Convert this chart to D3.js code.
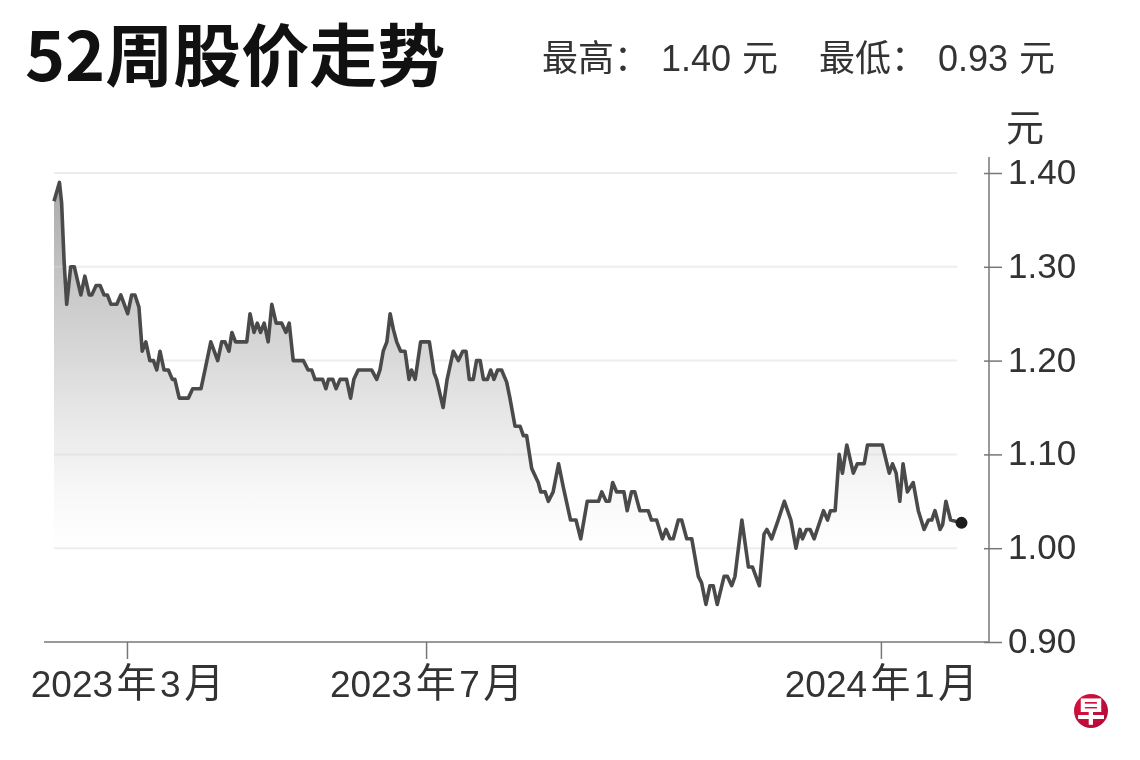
<!DOCTYPE html>
<html><head><meta charset="utf-8">
<script src="https://cdn.jsdelivr.net/npm/d3@7"></script>
<style>html,body{margin:0;background:#fff}svg{display:block;filter:blur(0.45px)}
text{font-family:"Liberation Sans","Noto Sans CJK SC",sans-serif;fill:#333}</style>
</head><body><svg id="c" width="1140" height="760"></svg>
<script>
const sessions=[0,1.5,2.1,2.8,3.5,4.6,5.6,7.4,8.5,9.7,10.4,11.6,12.7,13.8,14.7,15.7,17.3,18.4,20.3,21.4,22.3,23.4,24.3,25.3,26.4,27.4,28.3,29.2,30.3,31.5,32.6,33.3,34.5,37,38.2,40.5,41.6,43.2,45.1,46.2,47.1,48.2,49,50,53.1,54,55.1,56,56.9,57.9,59,60,61.2,62.7,63.9,64.8,65.9,68.7,70,71,71.9,74,74.9,75.6,76.8,77.7,78.8,80.6,81.7,82.6,83.8,87.5,88.9,89.8,90.7,91.7,92.6,93.5,94.4,95.5,96.7,97.8,98.5,99.5,101,103.4,104.7,105.4,107.2,108.3,110,111.4,112.6,113.5,114.4,115.5,116.4,117.4,118.3,119.4,120.3,121.2,122.2,123.3,124.7,125.6,127,128.4,129.3,130.2,131.6,133.4,134.1,135.3,136.2,137.5,139,140.3,142.3,143.8,145.1,146.9,150,150.9,152.1,153,153.9,155,157,157.9,159.1,160,161.4,163.7,164.6,166,167.6,168.6,169.7,170.6,172,172.9,174.3,175.7,177.5,178.4,179.6,180.7,181.6,182.7,184.6,185.5,186.7,187.6,189.5,191.3,192.4,194.3,195.6,196.4,197.7,199.5,201.2,203,204.4,205.5,206.2,207.3,208.3,209.4,212,213.1,213.9,215.2,216.3,217.2,218.4,220.2,221.3,223.2,224.1,228.2,230.1,231,232,233,233.9,235.1,236.7,238.1,239.7,240.9,241.8,242.7,244.1,244.8,245.7,247,250];
const prices=[1.37,1.39,1.368,1.304,1.26,1.30,1.30,1.27,1.29,1.27,1.27,1.28,1.28,1.27,1.27,1.26,1.26,1.27,1.25,1.27,1.27,1.257,1.21,1.22,1.20,1.20,1.19,1.21,1.19,1.19,1.18,1.18,1.16,1.16,1.17,1.17,1.19,1.22,1.20,1.22,1.22,1.21,1.23,1.22,1.22,1.25,1.23,1.24,1.23,1.24,1.22,1.26,1.24,1.24,1.23,1.24,1.20,1.20,1.19,1.19,1.18,1.18,1.17,1.18,1.18,1.17,1.18,1.18,1.16,1.18,1.19,1.19,1.18,1.19,1.21,1.22,1.25,1.233,1.22,1.21,1.21,1.18,1.19,1.18,1.22,1.22,1.187,1.18,1.15,1.18,1.21,1.20,1.21,1.21,1.18,1.18,1.20,1.20,1.18,1.18,1.19,1.18,1.19,1.19,1.177,1.16,1.13,1.13,1.12,1.12,1.085,1.07,1.06,1.06,1.05,1.06,1.09,1.065,1.03,1.03,1.01,1.05,1.05,1.06,1.05,1.05,1.07,1.06,1.06,1.04,1.06,1.06,1.04,1.04,1.03,1.03,1.01,1.02,1.01,1.01,1.03,1.03,1.01,1.01,0.97,0.963,0.94,0.96,0.96,0.94,0.97,0.97,0.96,0.97,1.03,0.98,0.98,0.96,1.015,1.02,1.01,1.03,1.05,1.03,1.00,1.02,1.01,1.02,1.02,1.01,1.04,1.03,1.04,1.04,1.10,1.08,1.11,1.08,1.09,1.09,1.11,1.11,1.08,1.09,1.08,1.05,1.09,1.06,1.07,1.04,1.02,1.03,1.03,1.04,1.02,1.025,1.05,1.03,1.027];
const priceTicks=[0.9,1.0,1.1,1.2,1.3,1.4];
const dateTicks=[20.1,102.5,227.8];
const dateLabels=["2023年3月","2023年7月","2024年1月"];
const titleText="52周股价走势";
const highParts=["最高\uFF1A","1.40","元"];
const lowParts=["最低\uFF1A","0.93","元"];
const unitText="元";
const logoText="早";

const svg=d3.select("#c");
const x=d3.scaleLinear().domain([0,250]).range([54,961.5]);
const y=d3.scaleLinear().domain([0.9,1.4]).range([642,173]);
const pts=sessions.map((s,i)=>[s,prices[i]]);

const defs=svg.append("defs");
const g=defs.append("linearGradient").attr("id","fade").attr("gradientUnits","userSpaceOnUse")
 .attr("x1",0).attr("x2",0).attr("y1",y(1.39)).attr("y2",y(1.0));
[[0,"#a8a8a8"],[0.3,"#c9c9c9"],[0.6,"#e4e4e4"],[0.85,"#f8f8f8"],[1,"#ffffff"]]
 .forEach(d=>g.append("stop").attr("offset",d[0]).attr("stop-color",d[1]));
const lg=defs.append("radialGradient").attr("id","logo").attr("cx","35%").attr("cy","35%").attr("r","75%");
lg.append("stop").attr("offset",0).attr("stop-color","#dc1440");
lg.append("stop").attr("offset",1).attr("stop-color","#b30a36");

svg.append("path").datum(pts).attr("fill","url(#fade)")
 .attr("d",d3.area().x(d=>x(d[0])).y0(y(0.9)).y1(d=>y(d[1])));

svg.append("g").selectAll("line").data(priceTicks.slice(1)).join("line")
 .attr("x1",x(0)).attr("x2",957).attr("y1",d=>y(d)).attr("y2",d=>y(d))
 .attr("stroke","#d8d8d8").attr("stroke-opacity",0.45).attr("stroke-width",2);

svg.append("path").datum(pts).attr("fill","none").attr("stroke","#4a4a4a").attr("stroke-width",3.6)
 .attr("stroke-linejoin","round")
 .attr("d",d3.line().x(d=>x(d[0])).y(d=>y(d[1])));
const last=pts[pts.length-1];
svg.append("circle").attr("cx",x(last[0])).attr("cy",y(last[1])).attr("r",6).attr("fill","#1c1c1c");

const yAxis=svg.append("g").attr("transform","translate(989,0)")
 .call(d3.axisRight(y).tickValues(priceTicks).tickSize(13).tickFormat(d3.format(".2f")));
yAxis.select(".domain").remove();
yAxis.selectAll("line").attr("stroke","#777").attr("stroke-width",1.5).attr("x1",-5);
yAxis.selectAll("text").attr("x",19).attr("dy","0.30em").style("font-size","35px");
svg.append("line").attr("x1",989).attr("x2",989).attr("y1",157).attr("y2",642).attr("stroke","#777").attr("stroke-width",1.5);

const xAxis=svg.append("g").attr("transform","translate(0,642)")
 .call(d3.axisBottom(x).tickValues(dateTicks).tickSize(17).tickFormat(""));
xAxis.select(".domain").remove();
xAxis.selectAll("line").attr("stroke","#777").attr("stroke-width",1.5);
xAxis.selectAll(".tick text").attr("y",55).attr("dy",0).each(function(d,i){
  const t=d3.select(this);
  dateLabels[i].split(/(?<=[年月])|(?=[年月])/).forEach((p,j)=>{
    t.append("tspan").attr("dx",j?3.5:0).text(p).style("font-size",/[年月]/.test(p)?"40px":"37px");
  });
});
svg.append("line").attr("x1",44).attr("x2",989).attr("y1",642).attr("y2",642).attr("stroke","#777").attr("stroke-width",1.5);

svg.append("text").attr("x",25).attr("y",81).text(titleText)
 .style("font-family",'"Noto Sans CJK SC"').style("font-weight",700).style("font-size","68px").style("fill","#111");
function gapped(left,parts){
  const t=svg.append("text").attr("x",left).attr("y",71).style("font-size","36px");
  parts.forEach((p,i)=>t.append("tspan").attr("dx",i?11:0).text(p));
}
gapped(542,highParts);
gapped(819,lowParts);
svg.append("text").attr("x",1006).attr("y",141).text(unitText).style("font-size","38px");

svg.append("circle").attr("cx",1091).attr("cy",711).attr("r",17).attr("fill","url(#logo)");
svg.append("text").attr("x",1091).attr("y",722).attr("text-anchor","middle").text(logoText)
 .style("font-family",'"Noto Sans CJK SC"').style("font-weight",900).style("font-size","28px").style("fill","#fff");
</script></body></html>
